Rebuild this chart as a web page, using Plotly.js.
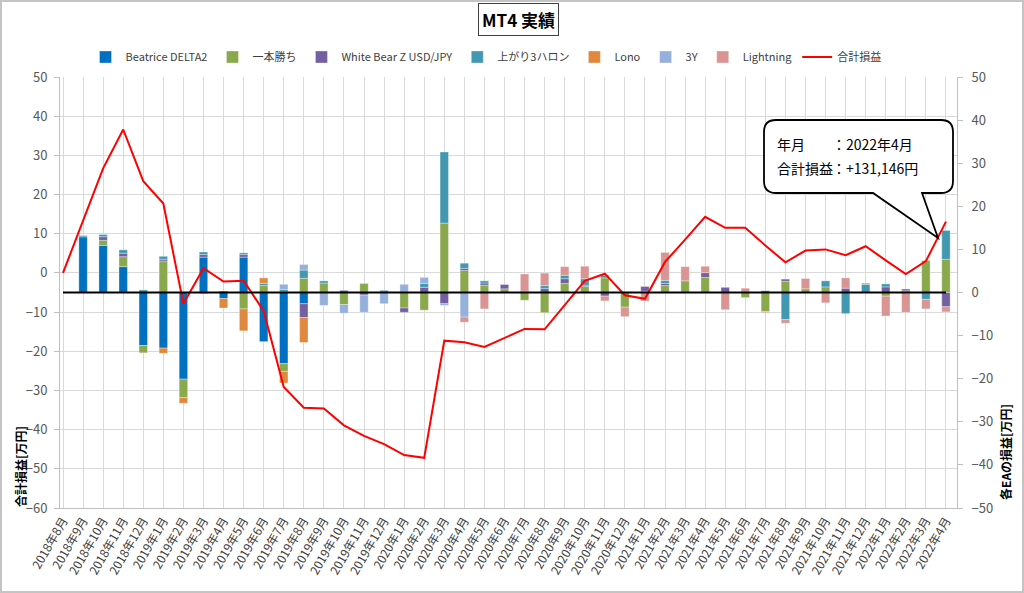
<!DOCTYPE html>
<html><head><meta charset="utf-8">
<script src="https://cdn.plot.ly/plotly-3.0.1.min.js"></script>
<style>
body{margin:0;background:#fff;}
#wrap{position:relative;width:1024px;height:593px;}
#frame{position:absolute;left:0;top:0;width:1020px;height:589px;border:2px solid #c4c4c4;pointer-events:none;}
</style>
</head><body>
<div id="wrap"><div id="chart" style="width:1024px;height:593px;"></div><div id="frame"></div></div>
<script>
const months = ["2018年8月","2018年9月","2018年10月","2018年11月","2018年12月",
"2019年1月","2019年2月","2019年3月","2019年4月","2019年5月","2019年6月","2019年7月","2019年8月","2019年9月","2019年10月","2019年11月","2019年12月",
"2020年1月","2020年2月","2020年3月","2020年4月","2020年5月","2020年6月","2020年7月","2020年8月","2020年9月","2020年10月","2020年11月","2020年12月",
"2021年1月","2021年2月","2021年3月","2021年4月","2021年5月","2021年6月","2021年7月","2021年8月","2021年9月","2021年10月","2021年11月","2021年12月",
"2022年1月","2022年2月","2022年3月","2022年4月"];

const beatrice = [0,12.9,10.9,6.0,-12.3,-12.9,-20.1,8.2,-1.4,8.2,-11.4,-16.5,-2.6,0,0,0,0,0,0,0,0,0,0,0,0,0,0,0,0,0,0,0,0,0,0,0,0,0,0,0,0,0,0,0,0];
const ippon = [0,0,1.2,2.3,-1.7,7.3,-4.3,0,0,-3.8,1.6,-1.8,3.3,2.2,-2.8,2.1,0,-3.6,-4.1,16.1,5.1,1.7,0.85,-1.8,-4.7,2.1,1.4,3.4,-3.4,0.3,1.6,2.7,3.5,0,-1.2,-4.4,2.6,0.85,1.3,0,0,-0.85,0.4,7.4,7.7];
const whiteBear = [0,0,0.85,0.8,0,0.4,0,0.6,0.3,0.6,0,0.2,-3.2,0,0.5,-0.6,0,-1.0,1.2,-2.6,0.5,0.5,1.0,0.3,0.9,1.1,0.3,-0.85,0,1.1,0.5,0,1.1,1.2,0,0.4,0.5,0,0,1.0,0,1.3,0.4,0,-3.3];
const agari = [0,0.3,0.5,0.8,0.6,0.7,0,0.6,0,0.4,0.5,0.5,1.9,0.5,0,0,0.5,0,0.9,16.5,1.2,0.5,0,0,0.7,0.8,1.5,0.6,0,0,0.7,0,0,0,0,0,-6.3,0,1.4,-4.9,1.9,0.7,0,-1.6,6.7];
const lono = [0,0,0,0,0,-1.2,-1.3,-0.3,-2.2,-5.1,1.3,-2.7,-5.8,0,0,0,0,0,0,0,0,0,0,0,0,0,0,0,0,0,0,0,0,0,0,0,0,0,0,0,0,0,0,0,0];
const threeY = [0,0,0,0,0,0,0,0,0,0,0,1.2,1.3,-3.0,-2.0,-4.0,-2.6,1.9,1.4,-0.4,-5.7,0,0,0,0,0,0,0,0,0,0,0,0,0,0,0,0,0,0,0,0,0,0,0,0];
const lightning = [0,0,0,0,0,0,0,0,0,0,0,0,0,0,0,0,0,0,0,0,-1.2,-3.8,0,4.0,2.9,2.0,2.9,-1.1,-2.2,-2.0,6.5,3.3,1.5,-4.0,1.0,-0.3,-0.85,2.4,-2.4,2.4,0.3,-4.6,-4.6,-2.2,-1.2];
const total = [0,13.2,26.7,36.6,23.4,17.7,-7.9,1.2,-2.2,-2.0,-9.7,-29.1,-34.4,-34.6,-38.9,-41.6,-43.7,-46.5,-47.2,-17.3,-17.7,-18.9,-16.7,-14.3,-14.4,-8.1,-2.0,-0.2,-5.7,-6.6,2.8,8.5,14.3,11.5,11.5,7.0,2.7,5.7,6.0,4.5,6.8,3.2,-0.3,3.0,13.1];

const seriesNames = ["Beatrice DELTA2","一本勝ち","White Bear Z USD/JPY","上がり3ハロン","Lono","3Y","Lightning"];
const seriesData = [beatrice, ippon, whiteBear, agari, lono, threeY, lightning];
const seriesColors = ["#0070C0","#8AA84C","#7460A0","#4298B0","#E0893E","#95B0DB","#D99594"];
const lineName = "合計損益";

const FONT = '"Noto Sans CJK JP", "Noto Sans", sans-serif';

const traces = seriesData.map((d,i)=>({
  type:'bar', name:seriesNames[i], x:months, y:d.map(v=>v===0?null:v),
  xaxis:'x', yaxis:'y', width:0.42,
  marker:{color:seriesColors[i], line:{color:'rgba(255,255,255,0.55)', width:0.6}},
  hoverinfo:'x+y+name'
}));
traces.push({type:'scatter', mode:'lines', name:lineName, x:months, y:total,
  xaxis:'x', yaxis:'y2', line:{color:'#FF0000', width:2}});

// pixel -> paper helpers for the plot area (l=60, r=957, t=77, b=508)
const PL=60, PR=957, PT=77, PB=508;
const fx = x => (x-PL)/(PR-PL);
const fy = y => (PB-y)/(PB-PT);
const P = (x,y) => fx(x).toFixed(5)+','+fy(y).toFixed(5);

const cx0=764, cx1=953, cy0=120, cy1=193, r=12;
const calloutPath = 'M'+P(cx0+r,cy0)+' L'+P(cx1-r,cy0)+' Q'+P(cx1,cy0)+' '+P(cx1,cy0+r)+
  ' L'+P(cx1,cy1-r)+' Q'+P(cx1,cy1)+' '+P(cx1-r,cy1)+
  ' L'+P(922,cy1)+' L'+P(938,238)+' L'+P(873,cy1)+
  ' L'+P(cx0+r,cy1)+' Q'+P(cx0,cy1)+' '+P(cx0,cy1-r)+
  ' L'+P(cx0,cy0+r)+' Q'+P(cx0,cy0)+' '+P(cx0+r,cy0)+' Z';

const ann = (x,y,text,font,extra) => Object.assign({xref:'paper', yref:'paper', x:fx(x), y:fy(y),
  xanchor:'center', yanchor:'middle', text:text, showarrow:false, font:font}, extra||{});

const layout = {
  width:1024, height:593,
  margin:{l:PL, r:1024-PR, t:PT, b:593-PB, pad:0},
  paper_bgcolor:'#fff', plot_bgcolor:'#fff',
  font:{family:FONT, color:'#595959', size:12},
  barmode:'relative', bargap:0.5,
  showlegend:true,
  legend:{orientation:'h', x:fx(486), xanchor:'center', y:fy(57), yanchor:'middle',
    font:{size:11, color:'#404040'}, itemwidth:30, traceorder:'normal', tracegroupgap:0},
  xaxis:{type:'category', range:[-0.15,44.55], tickangle:-60, showgrid:true, gridcolor:'#d9d9d9',
    tickfont:{size:12, color:'#404040'}, showline:true, linecolor:'#bfbfbf', ticks:'', automargin:false},
  yaxis:{side:'right', range:[-50,50], dtick:10, showgrid:false, zeroline:false, showline:true,
    linecolor:'#bfbfbf', ticks:'outside', ticklen:5, tickcolor:'#bfbfbf', tickfont:{size:13, color:'#595959'},
    ticklabelstandoff:6, automargin:false},
  yaxis2:{overlaying:'y', anchor:'x', side:'left', range:[-60,50], dtick:10, showgrid:true, gridcolor:'#d9d9d9',
    zeroline:false, showline:true, linecolor:'#bfbfbf', ticks:'outside', ticklen:5, tickcolor:'#bfbfbf',
    tickfont:{size:13, color:'#595959'}, ticklabelstandoff:4, automargin:false},
  shapes:[
    {type:'line', xref:'x', yref:'y', x0:0, x1:44, y0:0, y1:0, line:{color:'#000', width:2}, layer:'above'},
    {type:'path', xref:'paper', yref:'paper', path:calloutPath, fillcolor:'#fff', line:{color:'#000', width:1.8}, layer:'above'}
  ],
  annotations:[
    ann(518,20,'<b>MT4 実績</b>',{size:17, color:'#000', family:FONT},{bordercolor:'#404040', borderwidth:1, borderpad:3, bgcolor:'#fff'}),
    ann(20,467,'<b>合計損益[万円]</b>',{size:12, color:'#000'},{textangle:-90}),
    ann(1005,452,'<b>各EAの損益[万円]</b>',{size:12, color:'#000'},{textangle:-90}),
    ann(775,144,'年月',{size:14, color:'#000'},{xanchor:'left'}),
    ann(775,168,'合計損益',{size:14, color:'#000'},{xanchor:'left'}),
    ann(830,144,'：2022年4月',{size:14, color:'#000'},{xanchor:'left'}),
    ann(830,168,'：+131,146円',{size:14, color:'#000'},{xanchor:'left'})
  ]
};

Plotly.newPlot('chart', traces, layout, {displayModeBar:false, staticPlot:true});
</script>
</body></html>
